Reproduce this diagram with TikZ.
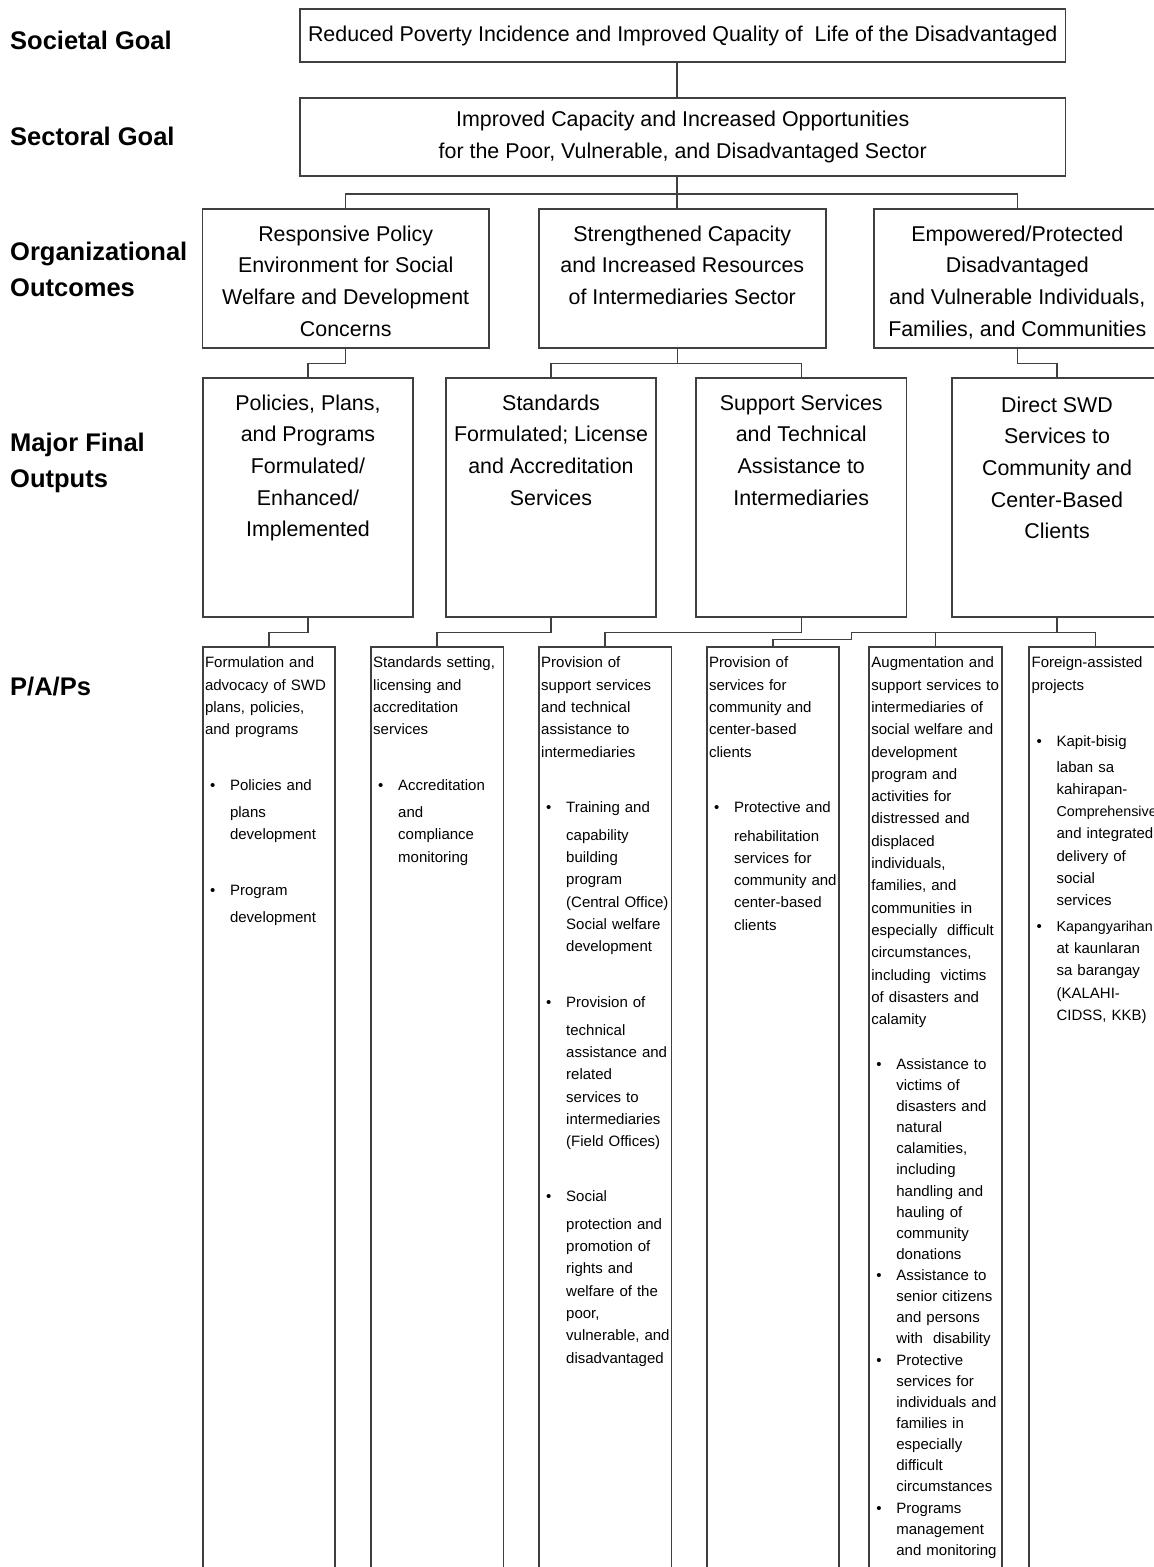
\documentclass[tikz,border=0pt]{standalone}
\usepackage{fontspec}
\setmainfont{Liberation Sans}
\usetikzlibrary{positioning}
\newcommand{\boxfont}{\fontsize{21.4}{31.7}\selectfont}
\newcommand{\papfont}{\fontsize{15}{22.3}\selectfont}
\newcommand{\bitem}[1]{\par\noindent\makebox[25pt][l]{\hspace{5pt}\textbullet}\parbox[t]{130pt}{\raggedright #1\strut}\par\prevdepth=\dp\strutbox}
\newcommand{\tight}[1]{{\fontsize{14.3}{22.3}\selectfont #1}}
\tikzset{
	box/.style={draw=black!75, line width=1.8pt, inner sep=0pt},
	goalbox/.style={box, minimum width=765.5pt, font=\boxfont, align=center},
	outbox/.style={box, minimum width=286.6pt, minimum height=138.4pt},
	mfobox/.style={box, minimum width=210.5pt, minimum height=238.4pt},
	papbox/.style={box, minimum width=132.5pt, minimum height=953pt},
	boxtext/.style={anchor=north, inner sep=0pt, align=center, font=\boxfont},
	paptext/.style={anchor=north west, inner sep=0pt, text width=170pt, align=left, font=\papfont},
	level/.style={anchor=west, inner sep=0pt, align=left, font=\bfseries\fontsize{25.5}{36}\selectfont},
	link/.style={draw=black!75, line width=1.4pt}
}

\begin{document}
\begin{tikzpicture}[x=1pt, y=-1pt]
	\useasboundingbox (0,0) rectangle (1154,1567);
	\clip (0,0) rectangle (1154,1567);
	
	% ==========================================
	% LEVEL NAMES
	% ==========================================
	\node[level] (lsoc) at (10, 40) {Societal Goal};
	\node[level] (lsec) at (10, 136) {Sectoral Goal};
	\node[level] (lorg) at (10, 269) {Organizational\\Outcomes};
	\node[level] (lmfo) at (10, 463) {Major Final\\Outputs};
	\node[level] (lpap) at (10, 687) {P/A/Ps};
	
	% ==========================================
	% GOALS
	% ==========================================
	\node[goalbox, minimum height=52.7pt] (goal) at (682.75, 35.65) {Reduced Poverty Incidence and Improved Quality of\ \ Life of the Disadvantaged};
	\node[goalbox, minimum height=78pt] (sector) at (682.75, 137) {Improved Capacity and Increased Opportunities\\for the Poor, Vulnerable, and Disadvantaged Sector};
	
	% ==========================================
	% ORGANIZATIONAL OUTCOMES
	% ==========================================
	\node[outbox] (oc1) at (345.7, 278.5) {};
	\node[outbox] (oc2) at (682.3, 278.5) {};
	\node[outbox] (oc3) at (1017.3, 278.5) {};
	\node[boxtext] (oc1t) at ([yshift=-17pt]oc1.north) {Responsive Policy\\Environment for Social\\Welfare and Development\\Concerns};
	\node[boxtext] (oc2t) at ([yshift=-17pt]oc2.north) {Strengthened Capacity\\and Increased Resources\\of Intermediaries Sector};
	\node[boxtext] (oc3t) at ([yshift=-17pt]oc3.north) {Empowered/Protected\\Disadvantaged\\and Vulnerable Individuals,\\Families, and Communities};
	
	% ==========================================
	% MAJOR FINAL OUTPUTS
	% ==========================================
	\foreach \n/\x in {1/308, 2/551, 3/801.25, 4/1057}
		\node[mfobox] (mfo\n) at (\x, 497.5) {};
	\node[boxtext] (mfo1t) at ([yshift=-17pt]mfo1.north) {Policies, Plans,\\and Programs\\Formulated/\\Enhanced/\\Implemented};
	\node[boxtext] (mfo2t) at ([yshift=-17pt]mfo2.north) {Standards\\Formulated; License\\and Accreditation\\Services};
	\node[boxtext] (mfo3t) at ([yshift=-17pt]mfo3.north) {Support Services\\and Technical\\Assistance to\\Intermediaries};
	\node[boxtext] (mfo4t) at ([yshift=-19pt]mfo4.north) {Direct SWD\\Services to\\Community and\\Center-Based\\Clients};
	
	% ==========================================
	% P/A/Ps
	% ==========================================
	\foreach \n/\x in {1/269, 2/437.15, 3/605.15, 4/773, 5/935.35, 6/1095.55}
		\node[papbox] (p\n) at (\x, 1123.2) {};
	
	\node[paptext] (p1t) at ([xshift=3pt, yshift=-11pt]p1.north west) {Formulation and\\advocacy of SWD\\plans, policies,\\and programs\par
		\vspace{33.4pt}
		\bitem{Policies and\\[4.7pt]plans\\development}
		\vspace{33.4pt}
		\bitem{Program\\[4.3pt]development}};
	
	\node[paptext] (p2t) at ([xshift=3pt, yshift=-11pt]p2.north west) {Standards setting,\\licensing and\\accreditation\\services\par
		\vspace{33.4pt}
		\bitem{Accreditation\\[4.7pt]and\\compliance\\monitoring}};
	
	\node[paptext] (p3t) at ([xshift=3pt, yshift=-11pt]p3.north west) {Provision of\\support services\\and technical\\assistance to\\intermediaries\par
		\vspace{32.7pt}
		\bitem{Training and\\[6pt]capability\\building\\program\\(Central Office)\\Social welfare\\development}
		\vspace{33.7pt}
		\bitem{Provision of\\[5pt]technical\\assistance and\\related\\services to\\intermediaries\\(Field Offices)}
		\vspace{32.7pt}
		\bitem{Social\\[5.3pt]protection and\\promotion of\\rights and\\welfare of the\\poor,\\vulnerable, and\\disadvantaged}};
	
	\node[paptext] (p4t) at ([xshift=3pt, yshift=-11pt]p4.north west) {Provision of\\services for\\community and\\center-based\\clients\par
		\vspace{32.7pt}
		\bitem{Protective and\\[6.7pt]rehabilitation\\services for\\community and\\center-based\\clients}};
	
	\node[paptext] (p5t) at ([xshift=3pt, yshift=-11pt]p5.north west) {Augmentation and\\support services to\\intermediaries of\\social welfare and\\development\\program and\\activities for\\distressed and\\displaced\\individuals,\\families, and\\communities in\\especially\ \ difficult\\circumstances,\\including\ \ victims\\of disasters and\\calamity\par
		\vspace{23.5pt}
		{\fontsize{15}{21.13}\selectfont
		\bitem{Assistance to\\victims of\\disasters and\\natural\\calamities,\\including\\handling and\\hauling of\\community\\donations}
		\bitem{Assistance to\\senior citizens\\and persons\\with\ \ disability}
		\bitem{Protective\\services for\\individuals and\\families in\\especially\\difficult\\circumstances}
		\bitem{Programs\\management\\and monitoring}}};
	
	\node[paptext] (p6t) at ([xshift=3pt, yshift=-11pt]p6.north west) {Foreign-assisted\\projects\par
		\vspace{34pt}
		\bitem{Kapit-bisig\\[3.3pt]laban sa\\kahirapan-\\\tight{Comprehensive}\\and integrated\\delivery of\\social\\services}
		\vspace{3pt}
		\bitem{\tight{Kapangyarihan}\\at kaunlaran\\sa barangay\\(KALAHI-\\CIDSS, KKB)}};
	
	% ==========================================
	% CONNECTORS
	% ==========================================
	\draw[link] ([xshift=-5.75pt]goal.south) -- ([xshift=-5.75pt]sector.north);
	\draw[link] ([xshift=-5.75pt]sector.south) -- ++(0,17) coordinate (hub1);
	\draw[link] (oc1.north) |- (hub1) -| (oc3.north);
	\draw[link] (hub1) -- (hub1 |- oc2.north);
	
	\draw[link] (oc1.south) -- ++(0,15) -| (mfo1.north);
	\draw[link] ([xshift=-5pt]oc2.south) -- ++(0,15) coordinate (hub2);
	\draw[link] (mfo2.north) |- (hub2) -| (mfo3.north);
	\draw[link] (oc3.south) -- ++(0,15) -| (mfo4.north);
	
	\foreach \n in {1,2,3}
		\draw[link] (mfo\n.south) -- ++(0,15) -| (p\n.north);
	\draw[link] (mfo4.south) -- ++(0,15) coordinate (hub3);
	\draw[link] (p6.north) |- (hub3) -- ++(-205.3,0) -- ++(0,6.6) -| (p4.north);
	\draw[link] (p5.north) -- (p5.north |- hub3);
	
\end{tikzpicture}
\end{document}
